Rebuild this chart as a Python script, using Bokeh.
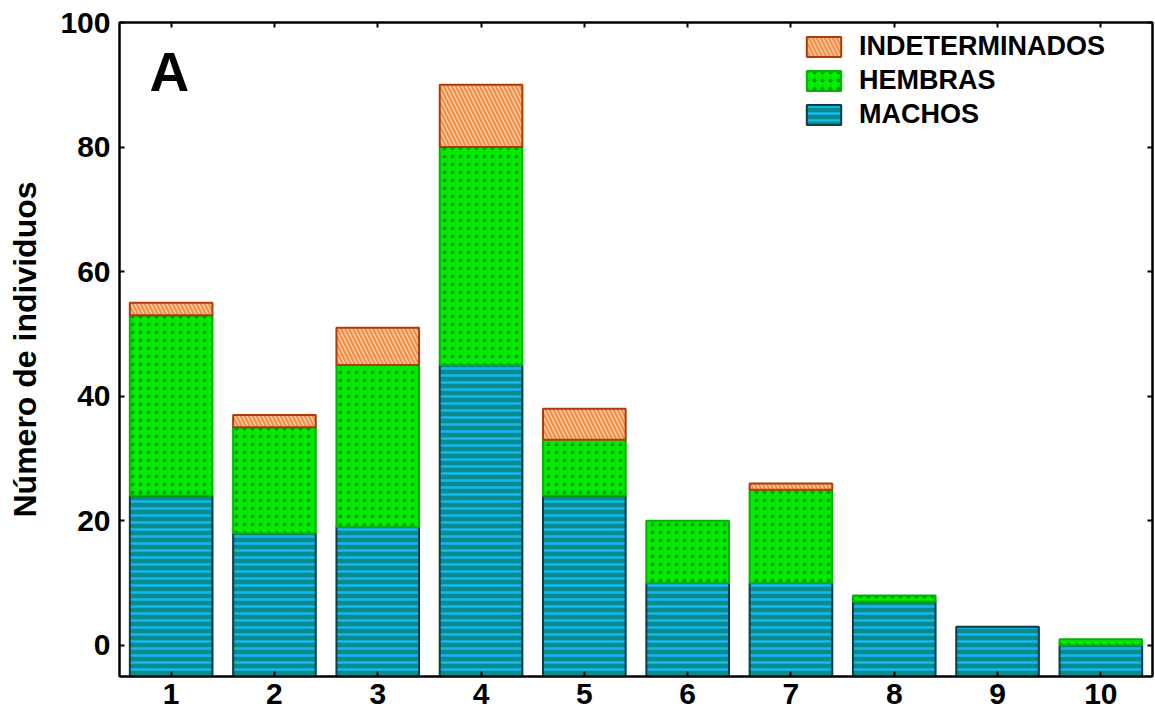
from bokeh.plotting import figure
from bokeh.models import (ColumnDataSource, Range1d, FixedTicker, LinearAxis,
                          Legend, LegendItem, Label)
from bokeh.embed import file_html
from bokeh.resources import INLINE

# ---- data ----
grupos = [1, 2, 3, 4, 5, 6, 7, 8, 9, 10]
machos = [24, 18, 19, 45, 24, 10, 10, 7, 3, 0]
hembras = [29, 17, 26, 35, 9, 10, 15, 1, 0, 1]
indeterminados = [2, 2, 6, 10, 5, 0, 1, 0, 0, 0]
y_ticks = [0, 20, 40, 60, 80, 100]
y_min, y_max = -5, 100
x_min, x_max = 0.5, 10.5
bar_width = 0.8

FONT = "Liberation Sans"

top_m = machos[:]
top_h = [m + h for m, h in zip(machos, hembras)]

src_m = ColumnDataSource(dict(x=grupos, bottom=[y_min] * len(grupos), top=top_m))
src_h = ColumnDataSource(dict(
    x=[g for g, h in zip(grupos, hembras) if h > 0],
    bottom=[m for m, h in zip(top_m, hembras) if h > 0],
    top=[t for t, h in zip(top_h, hembras) if h > 0]))
src_i = ColumnDataSource(dict(
    x=[g for g, i in zip(grupos, indeterminados) if i > 0],
    bottom=[t for t, i in zip(top_h, indeterminados) if i > 0],
    top=[t + i for t, i in zip(top_h, indeterminados) if i > 0]))

p = figure(width=1155, height=713, output_backend="svg", toolbar_location=None,
           x_range=Range1d(x_min, x_max), y_range=Range1d(y_min, y_max),
           min_border_left=119, min_border_right=3, min_border_top=22,
           min_border_bottom=37)
p.grid.visible = False
p.background_fill_color = "white"
p.border_fill_color = "white"
p.outline_line_color = "black"
p.outline_line_width = 2

r_m = p.vbar(x="x", bottom="bottom", top="top", width=bar_width, source=src_m,
             fill_color="#0b8a8c", line_color="#0c3c44", line_width=2,
             hatch_pattern="horizontal_line", hatch_color="#12b8f2",
             hatch_scale=7, hatch_weight=2.5)
r_h = p.vbar(x="x", bottom="bottom", top="top", width=bar_width, source=src_h,
             fill_color="#00ec00", line_color="#00b400", line_width=2,
             hatch_pattern="dot", hatch_color="#009a00",
             hatch_scale=8, hatch_weight=4)
r_i = p.vbar(x="x", bottom="bottom", top="top", width=bar_width, source=src_i,
             fill_color="#ee8636", line_color="#b03a08", line_width=2,
             hatch_pattern="left_diagonal_line", hatch_color="#f9c29a",
             hatch_scale=8, hatch_weight=2)

def style_axis(ax, show_labels=True):
    ax.axis_line_color = "black"
    ax.axis_line_width = 2
    ax.major_tick_in = 5
    ax.major_tick_out = 0
    ax.major_tick_line_width = 2
    ax.minor_tick_line_color = None
    ax.major_label_text_font = FONT
    ax.major_label_text_font_style = "bold"
    ax.major_label_text_font_size = "30px"
    ax.major_label_text_color = "black"
    if not show_labels:
        ax.major_label_standoff = 0
        ax.major_label_text_font_size = "1px"
        ax.major_label_overrides = {t: "" for t in ax.ticker.ticks}

xa = p.xaxis[0]
xa.ticker = FixedTicker(ticks=grupos)
style_axis(xa)
xa.major_label_standoff = 7

ya = p.yaxis[0]
ya.ticker = FixedTicker(ticks=y_ticks)
style_axis(ya)
ya.major_label_standoff = 9
ya.axis_label = "Número de individuos"
ya.axis_label_text_font = FONT
ya.axis_label_text_font_style = "bold"
ya.axis_label_text_font_size = "32px"
ya.axis_label_standoff = 14
ya.axis_label_text_color = "black"

top_ax = LinearAxis(ticker=FixedTicker(ticks=grupos))
style_axis(top_ax, show_labels=False)
p.add_layout(top_ax, "above")
right_ax = LinearAxis(ticker=FixedTicker(ticks=y_ticks))
style_axis(right_ax, show_labels=False)
p.add_layout(right_ax, "right")

legend = Legend(items=[LegendItem(label="INDETERMINADOS", renderers=[r_i]),
                       LegendItem(label="HEMBRAS", renderers=[r_h]),
                       LegendItem(label="MACHOS", renderers=[r_m])],
                location=(683, 546), padding=0, margin=0, spacing=3,
                glyph_width=43, glyph_height=25, label_standoff=14,
                label_text_font=FONT, label_text_font_style="bold",
                label_text_font_size="27px", label_height=25,
                label_text_color="black",
                border_line_color=None, background_fill_alpha=0)
p.add_layout(legend)

p.add_layout(Label(x=0.79, y=92.0, text="A", text_font=FONT,
                   text_font_style="bold", text_font_size="55px",
                   text_baseline="alphabetic", text_color="black"))

open("out.html", "w").write(file_html(p, INLINE))
